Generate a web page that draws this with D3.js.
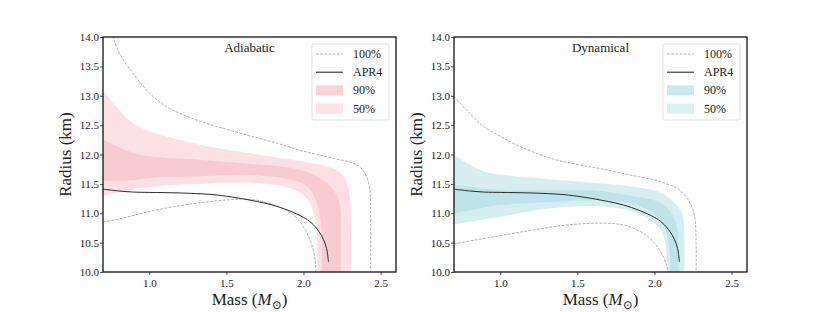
<!DOCTYPE html>
<html>
<head>
<meta charset="utf-8">
<script src="https://cdn.jsdelivr.net/npm/d3@7"></script>
<style>
  body { margin: 0; background: #fff; }
  svg text { font-family: "Liberation Serif", "DejaVu Serif", serif; fill: #222; }
</style>
</head>
<body>
<div id="chart"></div>
<script>
// curves, [mass, radius]
const apr4 = [[0.7, 11.41], [0.8, 11.38], [0.9, 11.36], [1.0, 11.355], [1.2, 11.345], [1.4, 11.32], [1.5, 11.29],
  [1.6, 11.25], [1.7, 11.2], [1.8, 11.14], [1.9, 11.05], [2.0, 10.93], [2.05, 10.84], [2.1, 10.69], [2.13, 10.55],
  [2.15, 10.4], [2.162, 10.17]];

const adiabatic100Upper = [[0.745, 14.3], [0.766, 14.0], [0.805, 13.73], [0.892, 13.39], [1.0, 13.05], [1.108, 12.82],
  [1.216, 12.68], [1.325, 12.57], [1.433, 12.48], [1.54, 12.4], [1.65, 12.32], [1.76, 12.24], [1.87, 12.16],
  [1.98, 12.07], [2.09, 12.0], [2.2, 11.93], [2.3, 11.87], [2.37, 11.78], [2.41, 11.62], [2.43, 11.4],
  [2.435, 11.1], [2.435, 10.0]];
const adiabatic100Lower = [[0.7, 10.85], [0.85, 10.93], [1.0, 11.03], [1.2, 11.13], [1.4, 11.2], [1.6, 11.24],
  [1.7, 11.22], [1.8, 11.15], [1.9, 11.03], [1.95, 10.94], [2.0, 10.77], [2.04, 10.56], [2.065, 10.36],
  [2.078, 10.15], [2.08, 10.0]];
const adiabatic90Upper = [[0.7, 13.1], [0.784, 12.82], [0.892, 12.54], [1.0, 12.4], [1.108, 12.31], [1.325, 12.17],
  [1.649, 12.02], [1.87, 11.93], [2.04, 11.86], [2.15, 11.8], [2.24, 11.69], [2.28, 11.52], [2.3, 11.29],
  [2.307, 11.0], [2.307, 10.0]];
const adiabatic90Lower = [[0.7, 11.3], [0.89, 11.4], [1.0, 11.45], [1.325, 11.5], [1.649, 11.52], [1.87, 11.46],
  [1.98, 11.35], [2.04, 11.18], [2.07, 10.95], [2.085, 10.7], [2.09, 10.4], [2.09, 10.0]];
const adiabatic50Upper = [[0.7, 12.25], [0.89, 12.03], [1.0, 11.97], [1.325, 11.91], [1.649, 11.84], [1.87, 11.79],
  [2.04, 11.69], [2.15, 11.52], [2.22, 11.29], [2.24, 11.06], [2.242, 10.7], [2.242, 10.0]];
const adiabatic50Lower = [[0.7, 11.55], [0.89, 11.56], [1.0, 11.6], [1.325, 11.63], [1.649, 11.65], [1.9, 11.58],
  [2.0, 11.5], [2.05, 11.38], [2.09, 11.15], [2.11, 10.9], [2.12, 10.6], [2.12, 10.0]];

const dynamical100Upper = [[0.7, 12.99], [0.78, 12.76], [0.89, 12.48], [1.0, 12.31], [1.1, 12.17], [1.32, 11.94],
  [1.5, 11.83], [1.65, 11.76], [1.86, 11.64], [2.0, 11.57], [2.08, 11.5], [2.15, 11.42], [2.21, 11.26],
  [2.25, 11.06], [2.265, 10.85], [2.27, 10.5], [2.27, 10.0]];
const dynamical100Lower = [[0.7, 10.48], [0.85, 10.55], [1.0, 10.62], [1.2, 10.71], [1.4, 10.79], [1.6, 10.83],
  [1.75, 10.82], [1.85, 10.76], [1.95, 10.62], [2.02, 10.43], [2.06, 10.25], [2.08, 10.1], [2.085, 10.0]];
const dynamical90Upper = [[0.7, 12.0], [0.78, 11.86], [0.887, 11.72], [1.0, 11.66], [1.32, 11.58], [1.645, 11.51],
  [1.864, 11.45], [2.04, 11.35], [2.12, 11.2], [2.18, 11.0], [2.193, 10.72], [2.195, 10.0]];
const dynamical90Lower = [[0.7, 10.81], [0.887, 10.89], [1.0, 10.94], [1.32, 11.08], [1.645, 11.12], [1.864, 11.03],
  [1.97, 10.89], [2.04, 10.72], [2.07, 10.5], [2.08, 10.27], [2.085, 10.0]];
const dynamical50Upper = [[0.7, 11.49], [0.887, 11.42], [1.0, 11.39], [1.32, 11.39], [1.645, 11.38], [1.864, 11.29],
  [2.04, 11.18], [2.11, 11.0], [2.15, 10.72], [2.155, 10.4], [2.155, 10.0]];
const dynamical50Lower = [[0.7, 11.0], [0.887, 11.09], [1.0, 11.14], [1.32, 11.19], [1.645, 11.22], [1.864, 11.15],
  [1.99, 11.0], [2.06, 10.78], [2.09, 10.5], [2.1, 10.25], [2.1, 10.0]];

const panelTitles = ['Adiabatic', 'Dynamical'];
const legendLabels = ['100%', 'APR4', '90%', '50%'];
const xTicks = [1.0, 1.5, 2.0, 2.5];
const yTicks = [10.0, 10.5, 11.0, 11.5, 12.0, 12.5, 13.0, 13.5, 14.0];
const xDomain = [0.7, 2.6];
const yDomain = [10, 14];

const panels = [
  { title: panelTitles[0], left: 103, up: adiabatic100Upper, lo: adiabatic100Lower,
    b90: [adiabatic90Upper, adiabatic90Lower], b50: [adiabatic50Upper, adiabatic50Lower],
    c90: '#fde0e5', c50: '#f8cbd3', sw90: '#fbd3da', sw50: '#fde3e7' },
  { title: panelTitles[1], left: 454, up: dynamical100Upper, lo: dynamical100Lower,
    b90: [dynamical90Upper, dynamical90Lower], b50: [dynamical50Upper, dynamical50Lower],
    c90: '#d6eef1', c50: '#bfe3e8', sw90: '#cbe8ec', sw50: '#dbf0f3' }
];

const W = 830, H = 312;
const plotTop = 37, pw = 293, ph = 235;

const svg = d3.select('#chart').append('svg')
  .attr('width', W).attr('height', H);

panels.forEach((p, i) => {
  const x = d3.scaleLinear().domain(xDomain).range([p.left, p.left + pw]);
  const y = d3.scaleLinear().domain(yDomain).range([plotTop + ph, plotTop]);

  const line = d3.line().x(d => x(d[0])).y(d => y(d[1])).curve(d3.curveCatmullRom.alpha(0.5));
  const band = (upper, lower) =>
    line(upper) + line(lower.slice().reverse()).replace(/^M/, 'L') + 'Z';

  svg.append('clipPath').attr('id', 'clip' + i)
    .append('rect').attr('x', p.left).attr('y', plotTop).attr('width', pw).attr('height', ph);

  const g = svg.append('g').attr('clip-path', `url(#clip${i})`);

  g.append('path').attr('d', band(p.b90[0], p.b90[1])).attr('fill', p.c90);
  g.append('path').attr('d', band(p.b50[0], p.b50[1])).attr('fill', p.c50);

  [p.up, p.lo].forEach(c => {
    g.append('path').attr('d', line(c)).attr('fill', 'none')
      .attr('stroke', '#9a9a9a').attr('stroke-width', 0.8).attr('stroke-dasharray', '2.8,1.4');
  });
  g.append('path').attr('d', line(apr4)).attr('fill', 'none')
    .attr('stroke', '#2b2b2b').attr('stroke-width', 1);

  // axes
  const xAxis = d3.axisBottom(x).tickValues(xTicks).tickFormat(d3.format('.1f')).tickSize(3).tickPadding(4);
  const yAxis = d3.axisLeft(y).tickValues(yTicks).tickFormat(d3.format('.1f')).tickSize(3).tickPadding(1);
  const gx = svg.append('g').attr('transform', `translate(0,${plotTop + ph})`).call(xAxis);
  const gy = svg.append('g').attr('transform', `translate(${p.left},0)`).call(yAxis);
  [gx, gy].forEach(a => {
    a.select('.domain').remove();
    a.selectAll('line').attr('stroke', '#222').attr('stroke-width', 0.8);
    a.selectAll('text').attr('font-size', 11).attr('font-family', '"Liberation Serif", serif').attr('fill', '#222');
  });

  svg.append('rect').attr('x', p.left).attr('y', plotTop).attr('width', pw).attr('height', ph)
    .attr('fill', 'none').attr('stroke', '#111').attr('stroke-width', 1.3);

  // title
  svg.append('text').attr('x', p.left + pw / 2).attr('y', 52)
    .attr('text-anchor', 'middle').attr('font-size', 13).text(p.title);

  // axis labels
  svg.append('text')
    .attr('transform', `translate(${p.left - 38},${plotTop + ph / 2}) rotate(-90)`)
    .attr('text-anchor', 'middle').attr('dominant-baseline', 'central')
    .attr('font-size', 17).text('Radius (km)');
  const xl = svg.append('text').attr('x', p.left + pw / 2).attr('y', 305)
    .attr('text-anchor', 'middle').attr('font-size', 17);
  xl.append('tspan').text('Mass (');
  xl.append('tspan').attr('font-style', 'italic').text('M');
  xl.append('tspan').attr('font-size', 12).attr('dy', 4).attr('font-family', '"DejaVu Serif", serif').text('\u2299');
  xl.append('tspan').attr('dy', -4).text(')');

  // legend
  const lx = p.left + pw - 84, ly = 44;
  const lg = svg.append('g');
  lg.append('rect').attr('x', lx).attr('y', ly).attr('width', 77).attr('height', 76)
    .attr('rx', 2).attr('fill', '#fff').attr('fill-opacity', 0.85)
    .attr('stroke', '#d9d9d9').attr('stroke-width', 0.8);
  legendLabels.forEach((lab, k) => {
    const cy = ly + 10 + k * 18.2;
    const hx = lx + 4;
    if (k === 0) {
      lg.append('line').attr('x1', hx).attr('x2', hx + 27).attr('y1', cy).attr('y2', cy)
        .attr('stroke', '#9a9a9a').attr('stroke-width', 0.8).attr('stroke-dasharray', '2.8,1.4');
    } else if (k === 1) {
      lg.append('line').attr('x1', hx).attr('x2', hx + 27).attr('y1', cy).attr('y2', cy)
        .attr('stroke', '#2b2b2b').attr('stroke-width', 1.1);
    } else {
      lg.append('rect').attr('x', hx).attr('y', cy - 5).attr('width', 27).attr('height', 10)
        .attr('fill', k === 2 ? p.sw90 : p.sw50);
    }
    lg.append('text').attr('x', hx + 37).attr('y', cy).attr('dominant-baseline', 'central')
      .attr('font-size', 12).text(lab);
  });
});
</script>
</body>
</html>
